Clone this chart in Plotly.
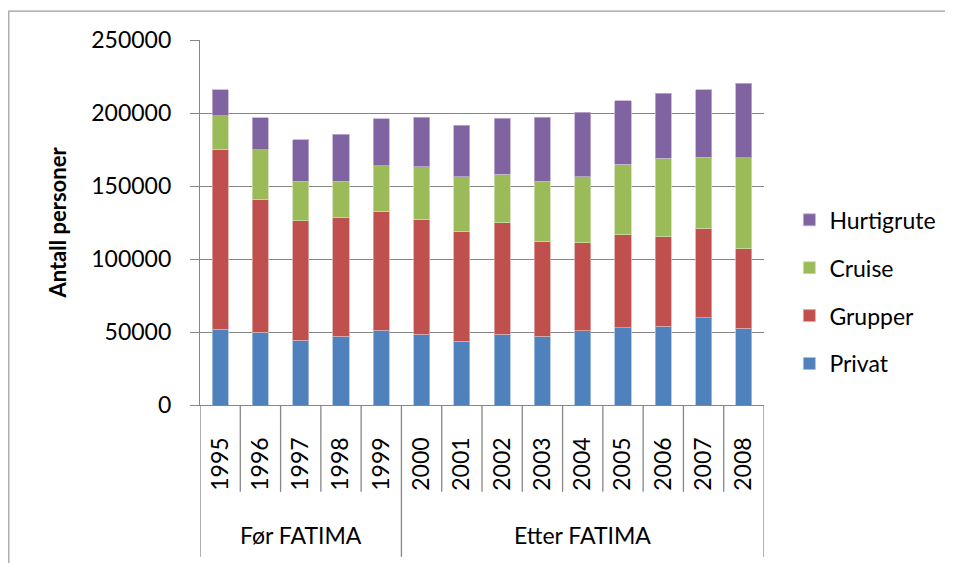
import plotly.graph_objects as go

years = ["1995", "1996", "1997", "1998", "1999", "2000", "2001",
         "2002", "2003", "2004", "2005", "2006", "2007", "2008"]
groups = ["Før FATIMA"] * 5 + ["Etter FATIMA"] * 9

privat = [51800, 50000, 44500, 47000, 51100, 48600, 43800,
          48600, 47200, 50700, 53000, 54100, 59900, 52500]
grupper = [123000, 90600, 81600, 81200, 81700, 78200, 74800,
           76200, 65000, 60300, 63500, 61000, 61000, 54600]
cruise = [23400, 34400, 27100, 25000, 31200, 36500, 37600,
          33200, 41200, 45200, 48400, 53900, 48800, 62200]
hurtigrute = [17600, 21600, 28500, 32400, 31900, 33700, 35500,
              38300, 43800, 44300, 43400, 44500, 46100, 51100]

series_names = ["Privat", "Grupper", "Cruise", "Hurtigrute"]
series_values = [privat, grupper, cruise, hurtigrute]
series_colors = ["#4F81BD", "#C0504D", "#9BBB59", "#8064A2"]
line_colors = ["#A7C0DE", "#DFA8A6", "#CDDDAC", "#BFB1D0"]

FONT = "Lato, 'Liberation Sans', sans-serif"
GRAY = "#868686"

fig = go.Figure()
for k, (name, vals, col, lc) in enumerate(zip(series_names, series_values, series_colors, line_colors)):
    fig.add_trace(go.Bar(
        x=years, y=vals, name=name, legendgroup=name,
        legendrank=len(series_names) - k,
        marker=dict(color=col, line=dict(color=lc, width=0.8)),
    ))

# category dividers below the axis
shapes = []
n = len(years)
for i in range(n + 1):
    boundary = (i == 0) or (i == n) or (groups[i] != groups[i - 1])
    shapes.append(dict(
        type="line", xref="x", yref="paper",
        x0=i - 0.5, x1=i - 0.5, y0=0, y1=-0.416 if boundary else -0.238,
        line=dict(color=GRAY, width=1.3),
    ))
# chart area border
shapes.append(dict(type="rect", xref="paper", yref="paper",
                   x0=-0.339, x1=1.36, y0=1.079, y1=-0.47,
                   line=dict(color="#9A9A9A", width=1.2), layer="below"))

annotations = []
seen = []
for g in groups:
    if g not in seen:
        seen.append(g)
for g in seen:
    idx = [i for i, gg in enumerate(groups) if gg == g]
    annotations.append(dict(
        x=(idx[0] + idx[-1]) / 2, y=-0.357, xref="x", yref="paper",
        text=g, showarrow=False, xanchor="center", yanchor="middle",
        font=dict(family=FONT, size=23, color="black"),
    ))

fig.update_layout(
    width=945, height=555,
    margin=dict(l=192, r=189, t=32, b=158),
    paper_bgcolor="white", plot_bgcolor="white",
    barmode="stack", bargap=0.6,
    font=dict(family=FONT, size=23, color="black"),
    shapes=shapes, annotations=annotations,
    legend=dict(
        x=1.045, xanchor="left", y=0.31, yanchor="middle",
        traceorder="grouped", tracegroupgap=15,
        font=dict(family=FONT, size=23, color="black"),
        bgcolor="rgba(0,0,0,0)",
    ),
    xaxis=dict(
        type="category", showline=True, linecolor=GRAY, linewidth=1.3,
        ticks="", tickangle=-90, ticklabelstandoff=22,
        tickfont=dict(family=FONT, size=23, color="black"),
        showgrid=False, range=[-0.5, n - 0.5],
    ),
    yaxis=dict(
        range=[0, 250000], dtick=50000, tickformat="d",
        showline=True, linecolor=GRAY, linewidth=1.3,
        ticks="outside", ticklen=9, tickcolor=GRAY, tickwidth=1.3,
        ticklabelstandoff=14,
        showgrid=True, gridcolor=GRAY, gridwidth=1.3, zeroline=False,
        tickfont=dict(family=FONT, size=23, color="black"),
        title=dict(text="<b>Antall personer</b>", standoff=18,
                   font=dict(family=FONT, size=22, color="black")),
    ),
)

fig.write_html("out.html")
